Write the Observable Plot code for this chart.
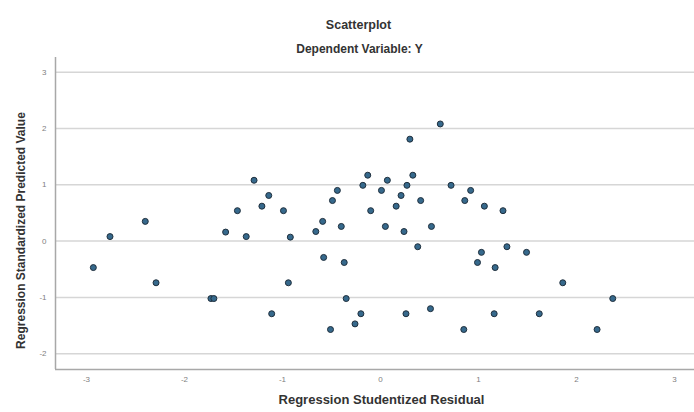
<!DOCTYPE html>
<html>
<head>
<meta charset="utf-8">
<script src="https://cdn.jsdelivr.net/npm/d3@7"></script>
<script src="https://cdn.jsdelivr.net/npm/@observablehq/plot@0.6"></script>
<style>
  html, body { margin: 0; padding: 0; background: #fff; }
  svg { font-family: "Liberation Sans", Arial, sans-serif; }
</style>
</head>
<body>
<div id="chart"></div>
<script>
const residual = [-2.93, -2.76, -2.40, -2.29, -1.73, -1.70, -1.58, -1.46, -1.37, -1.29, -1.21, -1.14, -1.11, -0.99, -0.94, -0.92, -0.66, -0.59, -0.58, -0.51, -0.49, -0.44, -0.40, -0.37, -0.35, -0.26, -0.20, -0.18, -0.13, -0.10,
  0.01, 0.05, 0.07, 0.16, 0.21, 0.24, 0.26, 0.27, 0.30, 0.33, 0.38, 0.41, 0.51, 0.52, 0.61, 0.72, 0.85, 0.86, 0.92, 0.99, 1.03, 1.06, 1.16, 1.17, 1.25, 1.29, 1.49, 1.62, 1.86, 2.21, 2.37];
const predicted = [-0.47, 0.08, 0.35, -0.74, -1.02, -1.02, 0.16, 0.54, 0.08, 1.08, 0.62, 0.81, -1.29, 0.54, -0.74, 0.07, 0.17, 0.35, -0.29, -1.57, 0.72, 0.90, 0.26, -0.38, -1.02, -1.47, -1.29, 0.99, 1.17, 0.54,
  0.90, 0.26, 1.08, 0.62, 0.81, 0.17, -1.29, 0.99, 1.81, 1.17, -0.10, 0.72, -1.20, 0.26, 2.08, 0.99, -1.57, 0.72, 0.90, -0.38, -0.20, 0.62, -1.29, -0.47, 0.54, -0.10, -0.20, -1.29, -0.74, -1.57, -1.02];
const xTicks = [-3, -2, -1, 0, 1, 2, 3];
const yTicks = [-2, -1, 0, 1, 2, 3];
const title = "Scatterplot";
const subtitle = "Dependent Variable: Y";
const xLabel = "Regression Studentized Residual";
const yLabel = "Regression Standardized Predicted Value";

const points = residual.map((x, i) => ({x, y: predicted[i]}));
const xDomain = [-3.316, 3.204];
const yDomain = [-2.28, 3.26];
const fmt = d => String(d);

const chart = Plot.plot({
  width: 694,
  height: 412,
  marginLeft: 55,
  marginRight: 0,
  marginTop: 57,
  marginBottom: 43,
  x: {domain: xDomain},
  y: {domain: yDomain},
  marks: [
    Plot.gridY(yTicks, {stroke: "#d6d6d6", strokeOpacity: 1, strokeWidth: 1.5}),
    Plot.ruleX([xDomain[0]], {stroke: "#a8a8a8", strokeWidth: 1.5}),
    Plot.ruleY([yDomain[0]], {stroke: "#a8a8a8", strokeWidth: 1.5}),
    Plot.axisY(yTicks, {tickSize: 0, tickPadding: 9, fontSize: 8, fill: "#808080", label: null, tickFormat: fmt}),
    Plot.axisX(xTicks, {tickSize: 0, tickPadding: 7, fontSize: 8, fill: "#808080", label: null, tickFormat: fmt}),
    Plot.dot(points, {x: "x", y: "y", r: 3, fill: "#36698c", stroke: "#1f2f3d", strokeWidth: 1}),
    Plot.text([title], {frameAnchor: "top-left", dx: 303, dy: -37, text: d => d, fontSize: 12.5, fontWeight: "bold", fill: "#333", textAnchor: "middle"}),
    Plot.text([subtitle], {frameAnchor: "top-left", dx: 304, dy: -13, text: d => d, fontSize: 12, fontWeight: "bold", fill: "#333", textAnchor: "middle"}),
    Plot.text([xLabel], {frameAnchor: "bottom-left", dx: 326, dy: 34, text: d => d, fontSize: 13, fontWeight: "bold", fill: "#333", textAnchor: "middle"}),
    Plot.text([yLabel], {frameAnchor: "left", dx: -34, dy: 17, rotate: -90, text: d => d, fontSize: 12, fontWeight: "bold", fill: "#333", textAnchor: "middle"})
  ]
});
document.getElementById("chart").appendChild(chart);
</script>
</body>
</html>
